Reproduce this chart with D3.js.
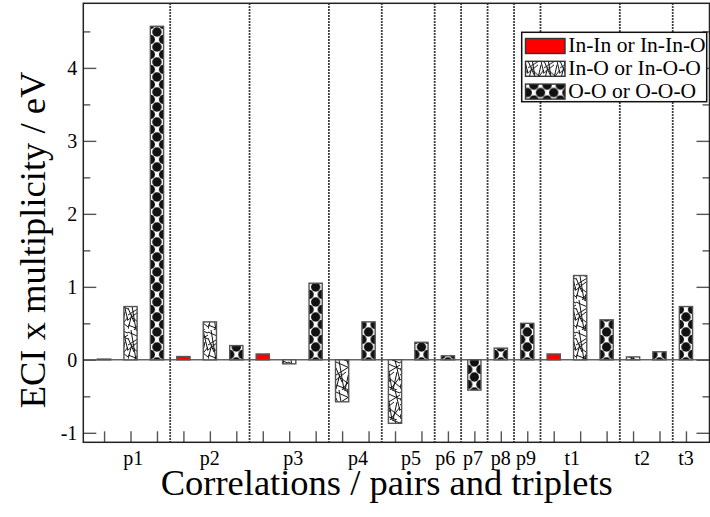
<!DOCTYPE html>
<html>
<head>
<meta charset="utf-8">
<script src="https://cdn.jsdelivr.net/npm/d3@7"></script>
<style>
body { margin: 0; background: #fff; }
svg text { font-family: "Liberation Serif", "Times New Roman", serif; fill: #000; }
</style>
</head>
<body>
<script>

// bar positions (x index) and values, one array pair per series
var redPos = [1, 4, 7, 18]
var redVal = [0.01, 0.045, 0.08, 0.08]

var hatchPos = [2, 5, 8, 10, 12, 19, 21]
var hatchVal = [0.73, 0.52, -0.055, -0.575, -0.87, 1.155, 0.04]

var dotPos = [3, 6, 9, 11, 13, 14, 15, 16, 17, 20, 22, 23]
var dotVal = [4.57, 0.195, 1.05, 0.52, 0.24, 0.055, -0.415, 0.16, 0.5, 0.548, 0.11, 0.73]

var groupLabels = ["p1", "p2", "p3", "p4", "p5", "p6", "p7", "p8", "p9", "t1", "t2", "t3"]
var groupLabelX = [2.1, 5, 8.15, 10.6, 12.6, 13.9, 14.95, 16, 16.95, 18.7, 21.35, 23]
var separators = [3.5, 6.5, 9.5, 11.5, 13.5, 14.5, 15.5, 16.5, 17.5, 20.5, 22.5]

var xTicks = d3.range(1, 24)
var yMajor = [-1, 0, 1, 2, 3, 4]
var yMinor = [-0.5, 0.5, 1.5, 2.5, 3.5, 4.5]

var legendNames = ["In-In or In-In-O", "In-O or In-O-O", "O-O or O-O-O"]
var legendFills = ["#ff0000", "url(#hatch)", "url(#dots)"]

var W = 710, H = 517
// note: "top" is a reserved window property, so use prefixed names
var pLeft = 83.3, pRight = 709.5, pTop = 3.3, pBottom = 442.3

var x = d3.scaleLinear().domain([0.215, 23.89]).range([pLeft, pRight])
var y = d3.scaleLinear().domain([-1.13, 4.885]).range([pBottom, pTop])

var bw = x(0.5) - x(0)

var svg = d3.select("body").append("svg")
  .attr("width", W)
  .attr("height", H)

//patterns
var defs = svg.append("defs")

// staggered black discs, tile as wide as a bar so every bar shows the same phase
var dots = defs.append("pattern")
  .attr("id", "dots")
  .attr("patternUnits", "userSpaceOnUse")
  .attr("x", x(1))
  .attr("y", 2)
  .attr("width", bw)
  .attr("height", 15)
dots.append("rect").attr("width", bw).attr("height", 15).attr("fill", "#fff")
var dotCentres = [[0, 0], [bw, 0], [0, 15], [bw, 15], [bw / 2, 7.5]]
dots.selectAll("circle").data(dotCentres).enter().append("circle")
  .attr("cx", function(d) { return d[0] })
  .attr("cy", function(d) { return d[1] })
  .attr("r", 4.7)
  .attr("fill", "#111")

var hatch = defs.append("pattern")
  .attr("id", "hatch")
  .attr("patternUnits", "userSpaceOnUse")
  .attr("width", 16)
  .attr("height", 30)
hatch.append("rect").attr("width", 16).attr("height", 30).attr("fill", "#fff")
var hatchLines = [
  [0, 2, 16, 9], [3, 0, 8, 30], [0, 15, 16, 5], [11, 0, 16, 21],
  [0, 25, 13, 30], [5, 18, 16, 27], [0, 8, 6, 22], [13, 12, 9, 30],
  [8, 0, 16, 3], [0, 20, 10, 12], [6, 30, 16, 17], [0, 29, 4, 14]
]
hatch.selectAll("line").data(hatchLines).enter().append("line")
  .attr("x1", function(d) { return d[0] })
  .attr("y1", function(d) { return d[1] })
  .attr("x2", function(d) { return d[2] })
  .attr("y2", function(d) { return d[3] })
  .attr("stroke", "#111")
  .attr("stroke-width", 1)

// dotted separators between groups
svg.append("g").selectAll("line")
  .data(separators)
  .enter()
  .append("line")
  .attr("x1", function(d) { return x(d) })
  .attr("x2", function(d) { return x(d) })
  .attr("y1", pTop)
  .attr("y2", pBottom)
  .attr("stroke", "#000")
  .attr("stroke-width", 1.8)
  .attr("stroke-dasharray", "1.5,1.5")

// zero line
svg.append("line")
  .attr("x1", pLeft)
  .attr("x2", pRight)
  .attr("y1", y(0))
  .attr("y2", y(0))
  .attr("stroke", "#666")
  .attr("stroke-width", 1.5)

function drawBars(pos, val, fill)
{
  svg.append("g").selectAll("rect")
    .data(pos)
    .enter()
    .append("rect")
    .attr("x", function(d) { return x(d) - bw / 2 })
    .attr("y", function(d, i) { return y(Math.max(0, val[i])) })
    .attr("width", bw)
    .attr("height", function(d, i) { return Math.abs(y(val[i]) - y(0)) })
    .attr("fill", fill)
    .attr("stroke", "#555")
    .attr("stroke-width", 1.4)
}

drawBars(redPos, redVal, legendFills[0])
drawBars(hatchPos, hatchVal, legendFills[1])
drawBars(dotPos, dotVal, legendFills[2])

// axes, ticks pointing inwards
var yAxis = d3.axisLeft(y)
  .tickValues(yMajor)
  .tickSizeInner(-13)
  .tickSizeOuter(0)
  .tickPadding(6)
  .tickFormat(function(d) { return String(d) })

var gy = svg.append("g").attr("transform", "translate(" + pLeft + ",0)").call(yAxis)
gy.select(".domain").remove()
gy.selectAll("line").attr("stroke", "#555").attr("stroke-width", 1.4)
gy.selectAll("text").attr("font-size", 20).attr("font-family", "Liberation Serif, serif")

var gyMinor = svg.append("g").attr("transform", "translate(" + pLeft + ",0)")
  .call(d3.axisLeft(y).tickValues(yMinor).tickSizeInner(-7).tickSizeOuter(0).tickFormat(""))
gyMinor.select(".domain").remove()
gyMinor.selectAll("line").attr("stroke", "#555").attr("stroke-width", 1.4)

var gr = svg.append("g").attr("transform", "translate(" + pRight + ",0)")
  .call(d3.axisRight(y).tickValues(yMajor).tickSizeInner(-13).tickSizeOuter(0).tickFormat(""))
gr.select(".domain").remove()
gr.selectAll("line").attr("stroke", "#555").attr("stroke-width", 1.4)

var grMinor = svg.append("g").attr("transform", "translate(" + pRight + ",0)")
  .call(d3.axisRight(y).tickValues(yMinor).tickSizeInner(-7).tickSizeOuter(0).tickFormat(""))
grMinor.select(".domain").remove()
grMinor.selectAll("line").attr("stroke", "#555").attr("stroke-width", 1.4)

var gx = svg.append("g").attr("transform", "translate(0," + pBottom + ")")
  .call(d3.axisBottom(x).tickValues(xTicks).tickSizeInner(-11).tickSizeOuter(0).tickFormat(""))
gx.select(".domain").remove()
gx.selectAll("line").attr("stroke", "#555").attr("stroke-width", 1.4)

// group labels under the axis
svg.append("g").selectAll("text")
  .data(groupLabels)
  .enter()
  .append("text")
  .attr("x", function(d, i) { return x(groupLabelX[i]) })
  .attr("y", 465)
  .attr("text-anchor", "middle")
  .attr("font-size", 20)
  .text(function(d) { return d })

// frame
svg.append("rect")
  .attr("x", pLeft)
  .attr("y", pTop)
  .attr("width", pRight - pLeft)
  .attr("height", pBottom - pTop)
  .attr("fill", "none")
  .attr("stroke", "#222")
  .attr("stroke-width", 1.5)

// axis titles
svg.append("text")
  .attr("x", 386.7)
  .attr("y", 495)
  .attr("text-anchor", "middle")
  .attr("font-size", 36.5)
  .text("Correlations / pairs and triplets")

svg.append("text")
  .attr("transform", "translate(45,240) rotate(-90)")
  .attr("text-anchor", "middle")
  .attr("font-size", 36.5)
  .text("ECI x multiplicity / eV")

// legend
var lg = svg.append("g")
lg.append("rect")
  .attr("x", 521.7)
  .attr("y", 32.3)
  .attr("width", 185)
  .attr("height", 69.4)
  .attr("fill", "#fff")
  .attr("stroke", "#111")
  .attr("stroke-width", 1.5)

var items = lg.selectAll("g.item")
  .data(legendNames)
  .enter()
  .append("g")
  .attr("class", "item")
  .attr("transform", function(d, i) { return "translate(0," + (i * 22.8) + ")" })

items.append("rect")
  .attr("x", 525.5)
  .attr("y", 38.5)
  .attr("width", 39.5)
  .attr("height", 15)
  .attr("fill", function(d, i) { return legendFills[i] })
  .attr("stroke", "#333")
  .attr("stroke-width", 1.4)

items.append("text")
  .attr("x", 568.3)
  .attr("y", 52)
  .attr("font-size", 21.5)
  .text(function(d) { return d })

</script>
</body>
</html>
